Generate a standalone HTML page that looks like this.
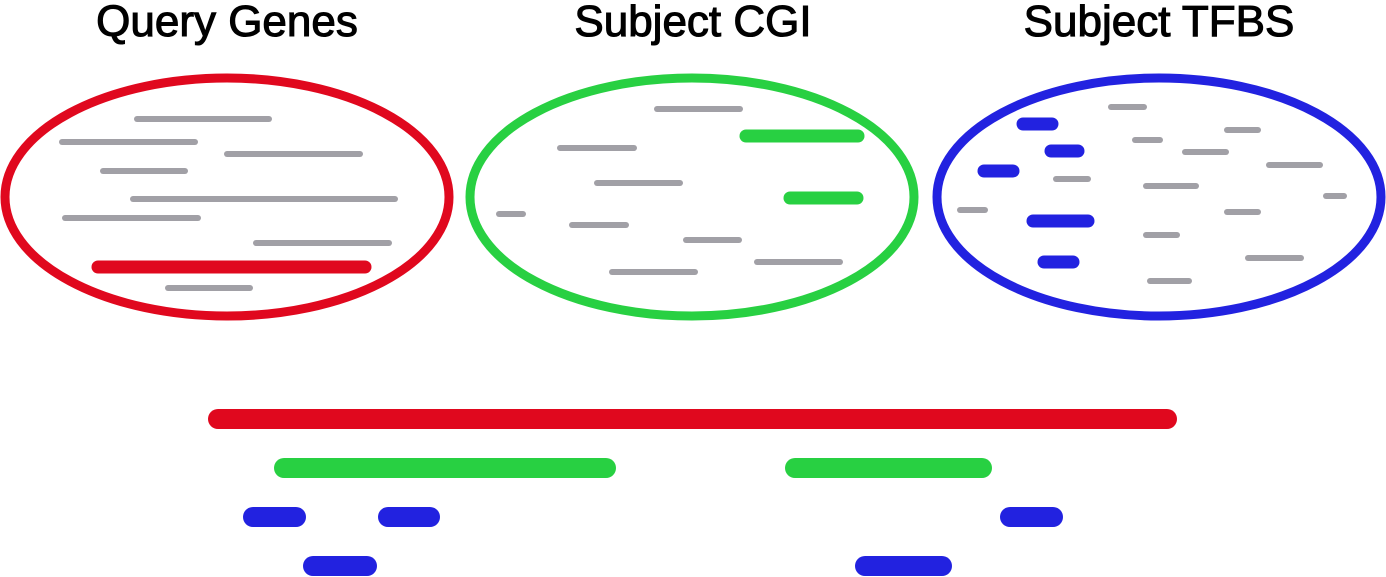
<!DOCTYPE html>
<html><head><meta charset="utf-8">
<style>
html,body{margin:0;padding:0;background:#fff;}
svg{display:block;}
text{font-family:"Liberation Sans",sans-serif;font-size:44px;fill:#000;stroke:#000;stroke-width:1.1px;}
</style></head>
<body>
<svg id="s" width="1386" height="577" viewBox="0 0 1386 577" xmlns="http://www.w3.org/2000/svg">
<text x="227" y="36" text-anchor="middle">Query Genes</text>
<text x="693" y="36" text-anchor="middle">Subject CGI</text>
<text x="1159" y="36" text-anchor="middle">Subject TFBS</text>
</svg>
<script>
const RED="#e0081e",GREEN="#28d042",BLUE="#2222e0",GRAY="#a1a0a6";
const ellipseCenters=[227,692,1159];
const ellipseColors=[RED,GREEN,BLUE];
const ellipseNames=['query-genes-set','subject-cgi-set','subject-tfbs-set'];
const querySegs=[[137,269,119,0],[62,195,142,0],[227,360,154,0],[103,185,171,0],[133,395,199,0],[65,198,218,0],[256,389,243,0],[98,365,267,1],[168,250,288,0]];
const cgiSegs=[[657,740,109,0],[746,858,136,1],[560,634,148,0],[597,680,183,0],[790,857,198,1],[499,523,214,0],[572,626,225,0],[686,739,240,0],[757,840,262,0],[612,695,272,0]];
const tfbsSegs=[[1111,1144,107,0],[1023,1052,124,1],[1227,1258,130,0],[1135,1160,140,0],[1051,1078,151,1],[1185,1226,152,0],[1269,1320,165,0],[984,1013,171,1],[1056,1088,179,0],[1146,1196,186,0],[1326,1344,196,0],[960,985,210,0],[1227,1258,212,0],[1033,1088,221,1],[1146,1177,235,0],[1044,1073,262,1],[1248,1301,258,0],[1150,1189,281,0]];
const bottomRed=[[218,1167,0]];
const bottomGreen=[[284,606,1],[795,982,1]];
const bottomBlue=[[253,296,2],[388,430,2],[1010,1053,2],[313,367,3],[865,942,3]];
const svg=document.getElementById('s');
const NS="http://www.w3.org/2000/svg";
function line(x1,x2,y,color,w,name){
  const l=document.createElementNS(NS,'line');
  l.setAttribute('x1',x1);l.setAttribute('x2',x2);l.setAttribute('y1',y);l.setAttribute('y2',y);
  l.setAttribute('stroke',color);l.setAttribute('stroke-width',w);l.setAttribute('stroke-linecap','round');
  
  
  svg.appendChild(l);
}
ellipseCenters.forEach((cx,i)=>{
  const e=document.createElementNS(NS,'ellipse');
  e.setAttribute('cx',cx);e.setAttribute('cy',197);e.setAttribute('rx',222);e.setAttribute('ry',119);
  e.setAttribute('fill','none');e.setAttribute('stroke',ellipseColors[i]);e.setAttribute('stroke-width',9);
  
  
  svg.appendChild(e);
});
[[querySegs,RED,'query'],[cgiSegs,GREEN,'cgi'],[tfbsSegs,BLUE,'tfbs']].forEach(([segs,col,nm])=>{
  segs.forEach(s=>{
    if(s[3]) line(s[0],s[1],s[2],col,13,nm+'-overlap-interval');
    else line(s[0],s[1],s[2],GRAY,6,nm+'-interval');
  });
});
const rowY=r=>419+r*49;
bottomRed.forEach(s=>line(s[0],s[1],rowY(s[2]),RED,20,'query-gene-track'));
bottomGreen.forEach(s=>line(s[0],s[1],rowY(s[2]),GREEN,20,'cgi-overlap-track'));
bottomBlue.forEach(s=>line(s[0],s[1],rowY(s[2]),BLUE,20,'tfbs-overlap-track'));
</script>
</body></html>
